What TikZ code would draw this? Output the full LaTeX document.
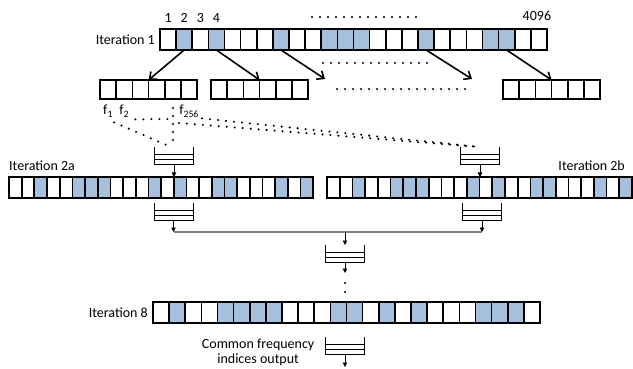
\documentclass[tikz,border=0pt]{standalone}
\usepackage{fontspec}
\setmainfont{Carlito}
\usetikzlibrary{arrows.meta,positioning}
\definecolor{cellblue}{RGB}{166,191,220}
\tikzset{
  cell/.style={draw, line width=1.7pt, minimum height=21pt, inner sep=0pt, outer sep=0pt},
  c0/.style={fill=white},
  c1/.style={fill=cellblue},
  lbl/.style={inner sep=1pt, font=\fontsize{14}{15}\selectfont},
  buf/.style={minimum width=39pt, minimum height=17pt, inner sep=0pt, outer sep=0pt},
  bigarr/.style={line width=1.6pt, -{Straight Barb[length=6pt,width=10pt]}},
  arr/.style={line width=0.7pt, -{Triangle[length=4.5pt,width=4.5pt]}},
  dots/.style={line width=2.3pt, line cap=round, dash pattern=on 0pt off 8pt},
}

\begin{document}
\begin{tikzpicture}[x=1pt, y=-1pt]
\useasboundingbox (0,0) rectangle (633,369);

% iteration 1
\foreach \b [count=\i] in {0,1,0,1,0,0,0,1,0,0,1,1,1,0,0,0,1,0,0,0,1,1,0,0}
  \node[cell, c\b, minimum width=16.125pt] (it1-\i) at ({160+(\i-0.5)*16.125}, 39.5) {};
\node[lbl, left=4pt of it1-1] (it1) {Iteration 1};
\foreach \i in {1,...,4}
  \node[lbl, anchor=base] (n\i) at ([yshift=6pt]it1-\i.north) {\i};
\node[lbl, anchor=base] (n4096) at ([xshift=-2pt,yshift=8pt]it1-24.north) {4096};
\draw[dots] (312,17) -- (420,17);

% sub blocks
\foreach \g/\x in {1/100, 2/211, 3/503}
  \foreach \i in {1,...,6}
    \node[cell, minimum width=16.2pt, minimum height=19pt] (g\g-\i) at ({\x+(\i-0.5)*16.2}, 89.5) {};
\coordinate (e3) at (325,79);
\coordinate (e4) at (472,79);
\draw[bigarr] (it1-2.south) -- (g1-4.north west);
\draw[bigarr] (it1-4.south) -- (g2-4.north west);
\draw[bigarr] (it1-8.south) -- (e3);
\draw[bigarr] (it1-17.south) -- (e4);
\draw[bigarr] (it1-22.south) -- (g3-4.north west);
\draw[dots] (323,63) -- (430,63);
\draw[dots] (337,89) -- (472,89);

\node[lbl, anchor=base] (f1) at ([yshift=-16pt]g1-1.south) {f\textsubscript{1}};
\node[lbl, anchor=base] (f2) at ([yshift=-16pt]g1-2.south) {f\textsubscript{2}};
\node[lbl, anchor=base] (f256) at ([yshift=-16pt]g1-6.south) {f\textsubscript{256}};

% buffers
\node[buf] (mA) at (174,155.5) {};
\node[buf] (mB) at (480,155.5) {};
\node[buf] (mC) at (173.5,211.5) {};
\node[buf] (mD) at (482,211.5) {};
\node[buf] (mE) at (345,253.5) {};
\node[buf] (mF) at (345,345.5) {};
\foreach \m in {mA,mB,mC,mD,mE,mF} {
  \draw[line width=0.8pt] (\m.north west) -- (\m.south west) -- (\m.south east) -- (\m.north east);
  \draw[line width=0.8pt] ([yshift=5pt]\m.south west) -- ([yshift=5pt]\m.south east);
  \draw[line width=0.8pt] ([yshift=10pt]\m.south west) -- ([yshift=10pt]\m.south east);
}

% f lines
\coordinate (fv) at ([yshift=-20pt]g1-5.south);
\draw[dots] ([yshift=-4pt]f1.south east) -- ([xshift=-3pt]mA.north);
\draw[dots] ([xshift=5pt,yshift=-1pt]f2.south east) -- (fv);
\draw[dots] ([yshift=-9pt]g1-5.south) -- (g1-5.south |- mA.north);
\draw[dots] ([xshift=6pt,yshift=-24pt]g1-5.south) -- (mB.north);
\draw[dots] ([xshift=2pt]f256.south east) -- (mB.north);

% iteration 2a / 2b
\foreach \b [count=\i] in {0,0,1,0,0,1,1,1,0,0,0,1,0,1,0,0,1,1,0,0,0,1,0,1} {
  \node[cell, c\b, minimum width=12.67pt] (it2a-\i) at ({9+(\i-0.5)*12.67}, 187.5) {};
  \node[cell, c\b, minimum width=12.71pt] (it2b-\i) at ({327+(\i-0.5)*12.71}, 187.5) {};
}
\node[lbl, anchor=base west] (it2a) at ([xshift=-1pt,yshift=6pt]it2a-1.north west) {Iteration 2a};
\node[lbl, anchor=base east] (it2b) at ([xshift=-6pt,yshift=6pt]it2b-24.north east) {Iteration 2b};

\draw[arr] (mA.south) -- (mA.south |- it2a-1.north);
\draw[arr] (mB.south) -- (mB.south |- it2b-1.north);
\coordinate (jl) at ([yshift=-12pt]mC.south);
\coordinate (jr) at ([yshift=-12pt]mD.south);
\draw[gray, line width=1.2pt] (jl) -- (jr);
\draw[arr] (mC.south) -- (jl);
\draw[arr] (mD.south) -- (jr);
\draw[arr] (jl -| mE.north) -- (mE.north);
\coordinate (e5) at ([yshift=-11pt]mE.south);
\draw[arr] (mE.south) -- (e5);
\draw[dots, dash pattern=on 0pt off 9pt] ([yshift=-21pt]mE.south) -- ([yshift=-30pt]mE.south);

% iteration 8
\foreach \b [count=\i] in {0,1,0,0,1,1,1,1,0,0,0,1,1,0,1,0,1,0,0,0,1,1,1,0}
  \node[cell, c\b, minimum width=16.125pt] (it8-\i) at ({153+(\i-0.5)*16.125}, 312.5) {};
\node[lbl, left=4pt of it8-1] (it8) {Iteration 8};

\coordinate (out) at ([yshift=-13pt]mF.south);
\draw[arr] (mF.south) -- (out);
\node[lbl, align=center, left=10pt of mF, yshift=-7pt] (outlbl) {Common frequency\\indices output};
\end{tikzpicture}
\end{document}
